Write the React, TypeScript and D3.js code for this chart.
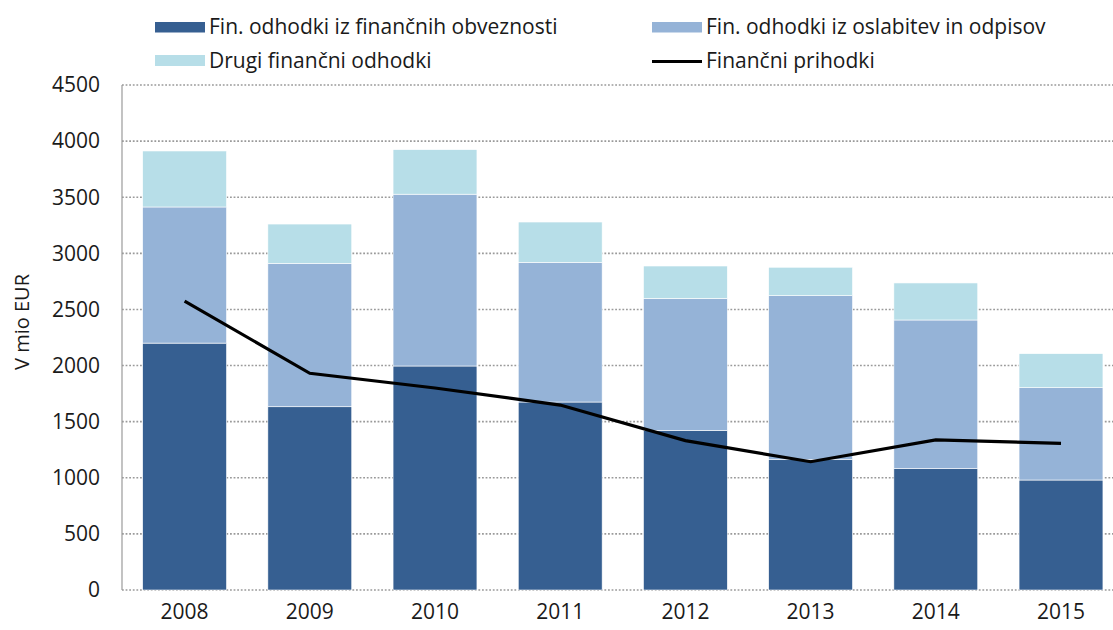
import React from "react";
import * as d3 from "d3";

const years = ["2008", "2009", "2010", "2011", "2012", "2013", "2014", "2015"];
const obveznosti = [2200, 1633, 1996, 1675, 1423, 1161, 1081, 980];
const oslabitve = [1213, 1278, 1531, 1245, 1176, 1462, 1325, 823];
const drugi = [499, 350, 397, 359, 288, 253, 330, 303];
const prihodki = [2575, 1931, 1800, 1648, 1331, 1143, 1337, 1307];
const yTicks = [0, 500, 1000, 1500, 2000, 2500, 3000, 3500, 4000, 4500];

const seriesNames = [
  "Fin. odhodki iz finančnih obveznosti",
  "Fin. odhodki iz oslabitev in odpisov",
  "Drugi finančni odhodki",
];
const lineName = "Finančni prihodki";
const colors = ["#365f91", "#95b3d7", "#b7dee8"];

const W = 1113;
const H = 630;
const left = 122;
const top = 85;
const bottom = 590;
const step = 125.2;

export default function App() {
  const x = d3
    .scaleBand<string>()
    .domain(years)
    .range([left, left + step * years.length])
    .paddingInner(0.33)
    .paddingOuter(0.165);
  const y = d3.scaleLinear().domain([0, 4500]).range([bottom, top]);

  const table = years.map((yr, i) => ({
    year: yr,
    a: obveznosti[i],
    b: oslabitve[i],
    c: drugi[i],
  }));
  const stack = d3.stack<any>().keys(["a", "b", "c"])(table);

  const line = d3
    .line<number>()
    .x((_, i) => (x(years[i]) as number) + x.bandwidth() / 2)
    .y((d) => y(d));

  const font = "'Open Sans', 'Noto Sans', sans-serif";
  const ink = "#1a1a1a";

  return (
    <svg
      width={W}
      height={H}
      style={{ position: "absolute", left: 0, top: 0, background: "#fff" }}
      fontFamily={font}
    >
      {yTicks.map((t) => (
        <line
          key={t}
          x1={left}
          x2={W}
          y1={y(t)}
          y2={y(t)}
          stroke="#9a9a9a"
          strokeWidth={1.6}
          strokeDasharray="1.8,1.8"
        />
      ))}
      {stack.map((s, si) =>
        s.map((d, i) => (
          <rect
            key={si + "-" + i}
            x={x(years[i])}
            width={x.bandwidth()}
            y={y(d[1])}
            height={y(d[0]) - y(d[1])}
            fill={colors[si]}
            stroke="#ffffff"
            strokeWidth={0.6}
          />
        ))
      )}
      <line x1={left} x2={left} y1={top} y2={bottom} stroke="#9a9a9a" strokeWidth={1.2} />
      <path d={line(prihodki) || ""} fill="none" stroke="#000" strokeWidth={3.2} />
      {yTicks.map((t) => (
        <text
          key={"l" + t}
          x={100}
          y={y(t)}
          dy="0.35em"
          textAnchor="end"
          fontSize={21}
          fill={ink}
        >
          {t}
        </text>
      ))}
      {years.map((yr) => (
        <text
          key={"x" + yr}
          x={(x(yr) as number) + x.bandwidth() / 2}
          y={612}
          dy="0.35em"
          textAnchor="middle"
          fontSize={21}
          fill={ink}
        >
          {yr}
        </text>
      ))}
      <text
        transform="translate(22,322) rotate(-90)"
        textAnchor="middle"
        dy="0.35em"
        fontSize={20}
        fill={ink}
      >
        V mio EUR
      </text>
      <rect x={155} y={22} width={50} height={10.5} fill={colors[0]} />
      <text x={209} y={27} dy="0.35em" fontSize={21} fill={ink}>
        {seriesNames[0]}
      </text>
      <rect x={652} y={22} width={50} height={10.5} fill={colors[1]} />
      <text x={706} y={27} dy="0.35em" fontSize={21} fill={ink}>
        {seriesNames[1]}
      </text>
      <rect x={155} y={55} width={50} height={11} fill={colors[2]} />
      <text x={209} y={61} dy="0.35em" fontSize={21} fill={ink}>
        {seriesNames[2]}
      </text>
      <line x1={652} x2={702} y1={61.5} y2={61.5} stroke="#000" strokeWidth={3.2} />
      <text x={706} y={61} dy="0.35em" fontSize={21} fill={ink}>
        {lineName}
      </text>
    </svg>
  );
}
